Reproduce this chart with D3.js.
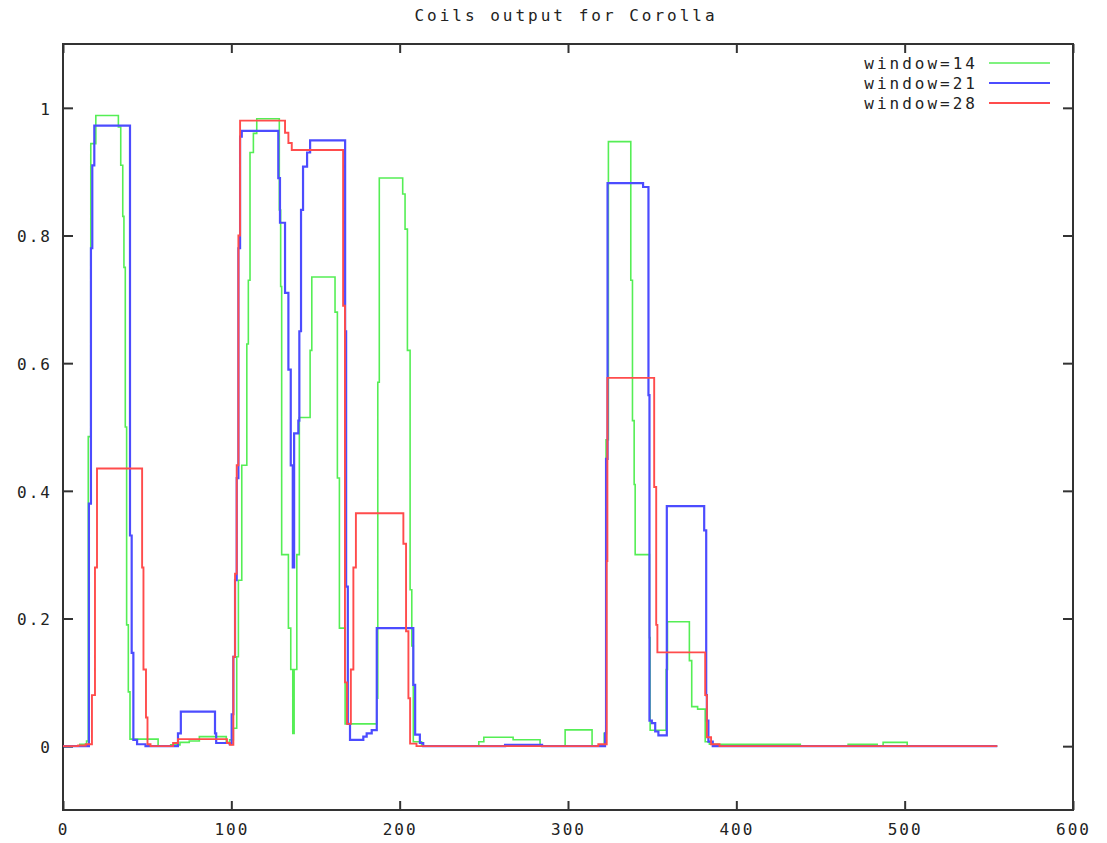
<!DOCTYPE html>
<html><head><meta charset="utf-8">
<script src="https://cdn.jsdelivr.net/npm/d3@7"></script>
<style>
html,body{margin:0;padding:0;background:#fff;}
text{font-family:"DejaVu Sans Mono","Liberation Mono",monospace;fill:#222;}
</style></head>
<body><svg id="chart" width="1107" height="843"></svg>
<script>
const title = "Coils output for Corolla";
const seriesNames = ["window=14", "window=21", "window=28"];
const xTicks = [0, 100, 200, 300, 400, 500, 600];
const yTicks = [0, 0.2, 0.4, 0.6, 0.8, 1];
const yTickLabels = ["0", "0.2", "0.4", "0.6", "0.8", "1"];

// step data: [residue, value] (value holds until next residue)
const window14 = [[0,0],[10,0.003],[14,0.008],[15,0.485],[16.5,0.944],[19.5,0.988],[32.9,0.97],[34.3,0.91],[35.5,0.83],[36.2,0.75],[37,0.5],[37.8,0.19],[38.8,0.085],[39.8,0.011],[56.5,0],[64,0.002],[69.5,0.006],[75,0.008],[81,0.015],[97,0.006],[99,0.01],[101.2,0.028],[103.2,0.14],[104.2,0.26],[106.2,0.44],[109.2,0.63],[110.1,0.73],[111.1,0.93],[113.1,0.96],[115.1,0.983],[128.5,0.84],[129.3,0.72],[129.9,0.30],[133.9,0.185],[135.3,0.12],[136.5,0.02],[137.3,0.12],[138.9,0.3],[140.4,0.515],[146.8,0.62],[147.8,0.735],[161.6,0.68],[163,0.42],[164.2,0.185],[167.6,0.035],[186.4,0.075],[187,0.57],[187.9,0.89],[201.8,0.865],[203.2,0.81],[204.6,0.62],[206.2,0.245],[207.2,0.157],[208.1,0.007],[213,0],[247,0.007],[250,0.014],[267.4,0.01],[283.4,0],[298.3,0.0255],[314.3,0],[321.5,0.02],[322.6,0.48],[324,0.947],[337.3,0.73],[338.3,0.51],[339.3,0.41],[339.9,0.3],[348.4,0.17],[348.8,0.025],[358.3,0.12],[359.1,0.195],[372.1,0.134],[373.5,0.062],[377,0.058],[381.5,0.007],[384,0.003],[438,0],[466.4,0.003],[483.7,0],[487.2,0.006],[501.5,0],[555,0]];
const window21 = [[0,0],[15.4,0.38],[16.6,0.78],[17.4,0.91],[18.6,0.972],[39.8,0.33],[40.8,0.146],[41.8,0.01],[44,0.003],[49,0],[68.3,0.02],[70,0.054],[90.3,0.02],[91,0.005],[99,0.003],[100.2,0.05],[101.2,0.14],[102.2,0.26],[103.2,0.42],[104.2,0.78],[105.2,0.955],[106.2,0.964],[127.9,0.89],[128.9,0.82],[131.9,0.71],[133.9,0.59],[135.3,0.44],[136.5,0.28],[137.3,0.49],[139.8,0.51],[140.4,0.65],[141.4,0.84],[142.6,0.908],[145,0.93],[146.8,0.949],[167.6,0.65],[168.2,0.25],[169.2,0.035],[170.5,0.01],[178.4,0.015],[180.4,0.02],[183.4,0.025],[186.4,0.185],[208.1,0.096],[209.2,0.018],[212,0.005],[214,0],[262.6,0.002],[284.6,0],[322,0.02],[322.6,0.45],[323.5,0.882],[344.6,0.876],[347.8,0.55],[348.4,0.04],[349.8,0.036],[351.8,0.023],[353.7,0.017],[358.7,0.376],[380.9,0.338],[382.1,0.08],[382.5,0.04],[383.4,0.007],[386,0],[555,0]];
const window28 = [[0,0],[9,0.001],[13.5,0.003],[17.2,0.08],[19,0.28],[20.2,0.435],[47,0.28],[47.8,0.12],[49.3,0.045],[50.2,0.003],[52,0],[65.4,0.005],[68.3,0.011],[97.4,0.005],[99.2,0.002],[101.2,0.14],[102.2,0.27],[103.2,0.44],[104.2,0.8],[105.2,0.98],[131.9,0.961],[133.9,0.945],[135.9,0.934],[166.4,0.69],[167.5,0.1],[168.7,0.035],[171,0.12],[172.5,0.28],[174,0.365],[202.2,0.317],[203.8,0.18],[205.2,0.075],[206.2,0.004],[210,0],[318,0.003],[323,0.29],[323.4,0.577],[351.2,0.406],[352.4,0.19],[353.1,0.147],[381.5,0.08],[382.5,0.014],[385,0.003],[390,0],[555,0]];

const colors = ["#55ee55", "#4c4cff", "#ff4c4c"];
const widths = [1.6, 2.2, 1.9];
const allSeries = [window14, window21, window28];

const svg = d3.select("#chart");
const mLeft = 63, mRight = 1073, mTop = 44, mBottom = 810;
const x = d3.scaleLinear().domain([0, 600]).range([mLeft, mRight]);
const y = d3.scaleLinear().domain([-0.1, 1.1]).range([mBottom, mTop]);

const axisColor = "#333";
svg.append("rect").attr("x", mLeft).attr("y", mTop).attr("width", mRight - mLeft).attr("height", mBottom - mTop)
  .attr("fill", "none").attr("stroke", axisColor).attr("stroke-width", 2);

const xb = svg.append("g").attr("transform", `translate(0,${mBottom})`)
  .call(d3.axisBottom(x).tickValues(xTicks).tickSize(-9).tickPadding(14).tickFormat(d3.format("d")));
const xt = svg.append("g").attr("transform", `translate(0,${mTop})`)
  .call(d3.axisTop(x).tickValues(xTicks).tickSize(-9).tickFormat(""));
const yl = svg.append("g").attr("transform", `translate(${mLeft},0)`)
  .call(d3.axisLeft(y).tickValues(yTicks).tickSize(-10).tickFormat((d, i) => yTickLabels[i]));
const yr = svg.append("g").attr("transform", `translate(${mRight},0)`)
  .call(d3.axisRight(y).tickValues(yTicks).tickSize(-10).tickFormat(""));
[xb, xt, yl, yr].forEach(g => {
  g.select(".domain").remove();
  g.selectAll(".tick line").attr("stroke", axisColor).attr("stroke-width", 2);
  g.selectAll(".tick text").attr("font-size", 16).attr("letter-spacing", "2px")
    .attr("font-family", "DejaVu Sans Mono").attr("fill", "#222");
});
yl.selectAll(".tick text").attr("x", -11).attr("dy", "0.4em");

const line = d3.line().x(d => x(d[0])).y(d => y(d[1])).curve(d3.curveStepAfter);
allSeries.forEach((s, i) => {
  svg.append("path").datum(s).attr("d", line).attr("fill", "none")
    .attr("stroke", colors[i]).attr("stroke-width", widths[i]).attr("stroke-linejoin", "miter");
});

svg.append("text").attr("x", 566).attr("y", 15).attr("text-anchor", "middle").attr("dominant-baseline", "central")
  .attr("font-size", 16).attr("letter-spacing", "3px").text(title);

seriesNames.forEach((n, i) => {
  const yy = 63 + i * 20;
  svg.append("text").attr("x", 978).attr("y", yy).attr("text-anchor", "end").attr("dominant-baseline", "central")
    .attr("font-size", 16).attr("letter-spacing", "3px").text(n);
  svg.append("line").attr("x1", 989).attr("x2", 1050).attr("y1", yy).attr("y2", yy)
    .attr("stroke", colors[i]).attr("stroke-width", widths[i]);
});
</script></body></html>
